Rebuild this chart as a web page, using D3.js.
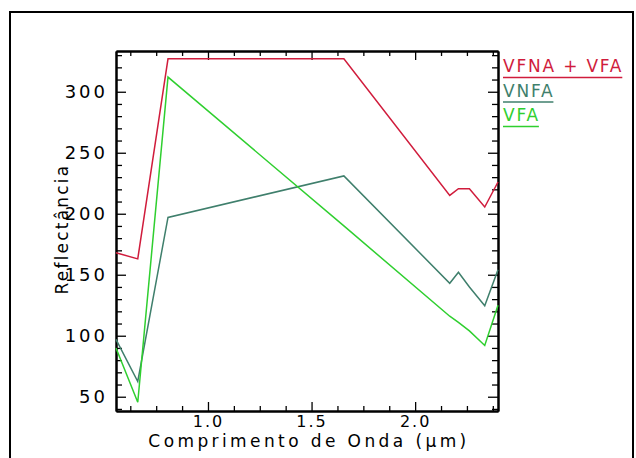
<!DOCTYPE html>
<html>
<head>
<meta charset="utf-8">
<script src="https://cdn.jsdelivr.net/npm/d3@7"></script>
<style>
  body { margin: 0; background: #fff; }
  .chart text { font-family: 'DejaVu Sans', sans-serif; font-weight: normal; }
  .axis path, .axis line { stroke: #000; }
</style>
</head>
<body>
<div class="chart"></div>
<script>
// wavelengths (um) and reflectance per series
const wavelengths = [0.556, 0.661, 0.807, 1.656, 2.167, 2.209, 2.262, 2.336, 2.400];
const vfnaVfa = [168, 163, 327, 327, 215, 220.5, 220.5, 205.5, 226];
const vnfa = [97, 62.5, 197, 231, 143, 152, 140, 124.5, 154];
const vfa = [90, 45.5, 312, 190, 116, 111, 104, 92, 125];

const seriesNames = ['VFNA + VFA', 'VNFA', 'VFA'];
const seriesColors = ['#d01c3c', '#3f7f6c', '#2fcf2f'];

const xMajor = [1.0, 1.5, 2.0];
const xMinor = [0.625, 0.75, 0.875, 1.125, 1.25, 1.375, 1.625, 1.75, 1.875, 2.125, 2.25, 2.375];
const yMajor = [50, 100, 150, 200, 250, 300];
const yMinor = d3.range(40, 331, 10).filter(v => v % 50 !== 0);

const width = 636;
const height = 458;
const margin = { top: 51, right: 138, bottom: 47, left: 116 };
const graphWidth = width - margin.left - margin.right;
const graphHeight = height - margin.top - margin.bottom;

const svg = d3.select('.chart')
  .append('svg')
  .attr('width', width)
  .attr('height', height);

svg.append('rect')
  .attr('x', 10)
  .attr('y', 12)
  .attr('width', 623)
  .attr('height', 470)
  .attr('fill', 'none')
  .attr('stroke', '#000')
  .attr('stroke-width', 2);

const graph = svg.append('g')
  .attr('transform', `translate(${margin.left}, ${margin.top})`);

const x = d3.scaleLinear().domain([0.556, 2.400]).range([0, graphWidth]);
const y = d3.scaleLinear().domain([38.3, 333.4]).range([graphHeight, 0]);

// axes: ticks point inward on all four sides
const addAxis = (axis, transform, values, size, labels) => {
  const g = graph.append('g')
    .attr('class', 'axis')
    .attr('transform', transform)
    .call(axis.tickValues(values).tickSizeInner(size).tickSizeOuter(0)
      .tickFormat(labels ? labels : ''));
  g.select('.domain').attr('stroke-width', 2);
  g.selectAll('.tick line').attr('stroke-width', 1.3);
  return g;
};

const bottomMaj = addAxis(d3.axisBottom(x), `translate(0, ${graphHeight})`, xMajor, -9, d3.format('.1f'));
addAxis(d3.axisBottom(x), `translate(0, ${graphHeight})`, xMinor, -5);
addAxis(d3.axisTop(x), 'translate(0, 0)', xMajor, -9);
addAxis(d3.axisTop(x), 'translate(0, 0)', xMinor, -5);
const leftMaj = addAxis(d3.axisLeft(y), 'translate(0, 0)', yMajor, -10, d3.format('d'));
addAxis(d3.axisLeft(y), 'translate(0, 0)', yMinor, -6);
addAxis(d3.axisRight(y), `translate(${graphWidth}, 0)`, yMajor, -10);
addAxis(d3.axisRight(y), `translate(${graphWidth}, 0)`, yMinor, -6);

// x tick labels sit just under the axis, the title below them
bottomMaj.selectAll('text')
  .attr('y', 16)
  .attr('dy', 0)
  .attr('fill', '#000')
  .style('font-size', '16px')
  .style('letter-spacing', '2px');

leftMaj.selectAll('text')
  .attr('x', -8)
  .attr('fill', '#000')
  .style('font-size', '18px')
  .style('letter-spacing', '3px');

// axis titles
graph.append('text')
  .attr('x', graphWidth / 2 + 2)
  .attr('y', graphHeight + 36)
  .attr('text-anchor', 'middle')
  .attr('fill', '#000')
  .style('font-size', '17px')
  .style('letter-spacing', '3.4px')
  .text('Comprimento de Onda (μm)');

graph.append('text')
  .attr('transform', `translate(${68 - margin.left}, ${graphHeight / 2 - 2}) rotate(-90)`)
  .attr('text-anchor', 'middle')
  .attr('fill', '#000')
  .style('font-size', '17px')
  .style('letter-spacing', '2.2px')
  .text('Reflectância');

// lines
const allSeries = [vfnaVfa, vnfa, vfa];
const line = d3.line()
  .x((d, i) => x(wavelengths[i]))
  .y(d => y(d));

graph.selectAll('path.series')
  .data(allSeries)
  .enter()
  .append('path')
  .attr('class', 'series')
  .attr('fill', 'none')
  .attr('stroke', (d, i) => seriesColors[i])
  .attr('stroke-width', 1.5)
  .attr('d', line);

// legend: coloured, underlined names at the right
const legend = svg.append('g')
  .attr('transform', `translate(${margin.left + graphWidth + 5}, 0)`);

seriesNames.forEach((name, i) => {
  const t = legend.append('text')
    .attr('x', 0)
    .attr('y', 72 + i * 24.5)
    .attr('fill', seriesColors[i])
    .style('font-size', '17px')
    .style('letter-spacing', '1.8px')
    .text(name);
  const w = t.node().getComputedTextLength();
  legend.append('line')
    .attr('x1', 0)
    .attr('x2', w - 1)
    .attr('y1', 77.5 + i * 24.5)
    .attr('y2', 77.5 + i * 24.5)
    .attr('stroke', seriesColors[i])
    .attr('stroke-width', 1.5);
});
</script>
</body>
</html>
